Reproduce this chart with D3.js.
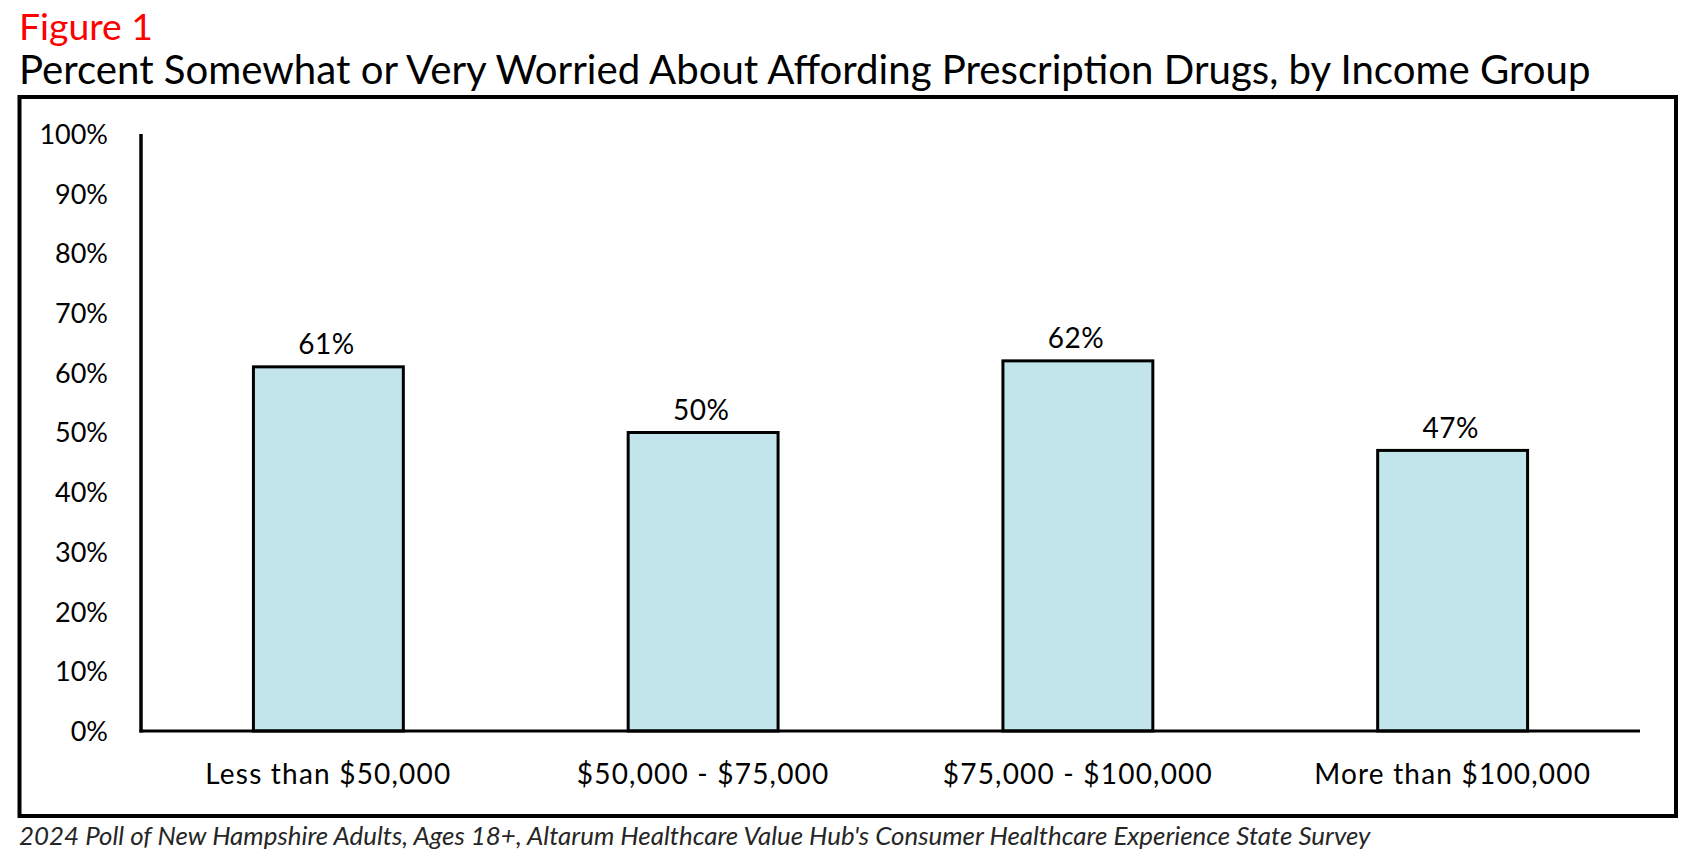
<!DOCTYPE html>
<html>
<head>
<meta charset="utf-8">
<script src="https://cdn.jsdelivr.net/npm/d3@7"></script>
<style>
  html, body { margin: 0; padding: 0; background: #fff; }
  svg { display: block; }
  text { font-family: Lato, "Open Sans", sans-serif; fill: #000; }
</style>
</head>
<body>
<svg id="chart" width="1692" height="859"></svg>
<script>
const figureLabel = "Figure 1";
const title = "Percent Somewhat or Very Worried About Affording Prescription Drugs, by Income Group";
const footnote = "2024 Poll of New Hampshire Adults, Ages 18+, Altarum Healthcare Value Hub's Consumer Healthcare Experience State Survey";
const categories = ["Less than $50,000", "$50,000 - $75,000", "$75,000 - $100,000", "More than $100,000"];
const values = [61, 50, 62, 47];
const yTicks = [0, 10, 20, 30, 40, 50, 60, 70, 80, 90, 100];

const svg = d3.select("#chart");

function fitWidth(sel, target) {
  const w = sel.node().getComputedTextLength();
  const fs = parseFloat(sel.attr("font-size"));
  sel.attr("font-size", fs * target / w);
}

// Figure label
const fig = svg.append("text").attr("x", 19).attr("y", 40)
  .attr("font-size", 33).style("fill", "#ff0000").text(figureLabel);
fitWidth(fig, 134);

// Title
const t = svg.append("text").attr("x", 19).attr("y", 84)
  .attr("font-size", 33).text(title);
fitWidth(t, 1572);

// Frame
svg.append("rect").attr("x", 19.5).attr("y", 97).attr("width", 1656.5).attr("height", 719)
  .attr("fill", "none").attr("stroke", "#000").attr("stroke-width", 4);

// Scales
const x = d3.scaleBand().domain(categories).range([141, 1640]).paddingInner(0.6).paddingOuter(0.3);
const y = d3.scaleLinear().domain([0, 100]).range([731, 134]);

// Bars
svg.append("g").selectAll("rect").data(values).join("rect")
  .attr("x", (d, i) => x(categories[i]))
  .attr("y", d => y(d))
  .attr("width", x.bandwidth())
  .attr("height", d => y(0) - y(d))
  .attr("fill", "#c1e5eb")
  .attr("stroke", "#000")
  .attr("stroke-width", 3);

// Value labels
svg.append("g").selectAll("text").data(values).join("text")
  .attr("x", (d, i) => x(categories[i]) + x.bandwidth() / 2 - 2)
  .attr("y", d => y(d) - 12.5)
  .attr("text-anchor", "middle")
  .attr("font-size", 28)
  .attr("letter-spacing", 0.5)
  .text(d => d + "%");

// Y axis
const yAxis = d3.axisLeft(y).tickValues(yTicks).tickSize(0).tickPadding(33)
  .tickFormat(d => d + "%");
const gy = svg.append("g").attr("transform", "translate(141,0)").call(yAxis);
gy.select(".domain").remove();
gy.selectAll("text").attr("font-size", 27).attr("font-family", "Lato, sans-serif")
  .attr("dy", "0.35em").style("fill", "#000");
svg.append("line").attr("x1", 141).attr("x2", 141).attr("y1", y(100)).attr("y2", y(0) + 1.5)
  .attr("stroke", "#000").attr("stroke-width", 3.5);

// X axis
const xAxis = d3.axisBottom(x).tickSize(0).tickPadding(0);
const gx = svg.append("g").attr("transform", `translate(0,${y(0)})`).call(xAxis);
gx.select(".domain").remove();
gx.selectAll("text").attr("font-size", 28).attr("letter-spacing", 1.2)
  .attr("font-family", "Lato, sans-serif")
  .attr("y", 53).attr("dy", 0).style("fill", "#000");
svg.append("line").attr("x1", 139.5).attr("x2", 1640).attr("y1", y(0)).attr("y2", y(0))
  .attr("stroke", "#000").attr("stroke-width", 3);

// Footnote
const fn = svg.append("text").attr("x", 19).attr("y", 845)
  .attr("font-size", 23).attr("font-style", "italic").style("fill", "#262626").text(footnote);
fitWidth(fn, 1352);
</script>
</body>
</html>
